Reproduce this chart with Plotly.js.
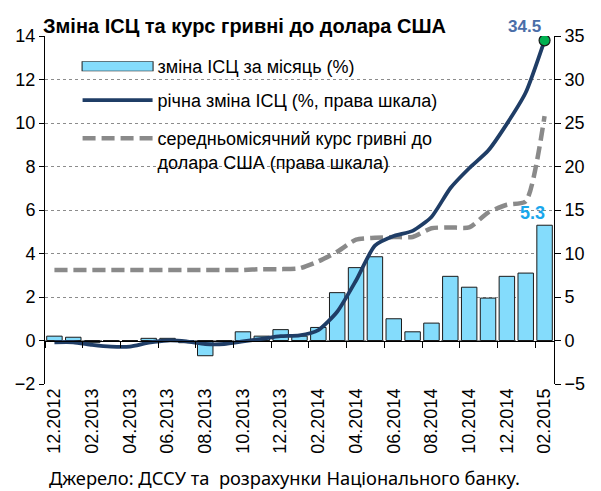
<!DOCTYPE html>
<html>
<head>
<meta charset="utf-8">
<script src="https://cdn.plot.ly/plotly-3.0.1.min.js"></script>
<style>html,body{margin:0;padding:0;background:#fff;}#chart{width:601px;height:491px;}</style>
</head>
<body>
<div id="chart"></div>
<script>
// Months: 12.2012 .. 02.2015
var months = ["12.2012","01.2013","02.2013","03.2013","04.2013","05.2013","06.2013","07.2013","08.2013","09.2013","10.2013","11.2013","12.2013","01.2014","02.2014","03.2014","04.2014","05.2014","06.2014","07.2014","08.2014","09.2014","10.2014","11.2014","12.2014","01.2015","02.2015"];
// Monthly CPI change, % (left axis)
var cpiMonthly = [0.2,0.15,-0.1,0.0,0.0,0.1,0.1,-0.1,-0.7,0.0,0.4,0.2,0.5,0.2,0.6,2.2,3.35,3.85,1.0,0.4,0.8,2.95,2.45,1.95,2.95,3.1,5.3];
// Annual CPI change, % (right axis)
var cpiAnnual = [-0.2,-0.2,-0.5,-0.7,-0.7,-0.25,0.0,-0.1,-0.4,-0.4,-0.1,0.2,0.5,0.6,1.2,3.3,6.9,10.9,12.0,12.6,14.2,17.5,19.8,21.8,24.9,28.5,34.5];
// Average monthly UAH/USD rate (right axis)
var uahUsd = [8.1,8.1,8.1,8.1,8.1,8.1,8.1,8.1,8.1,8.1,8.1,8.2,8.2,8.3,9.1,10.2,11.6,11.8,11.9,11.9,12.9,13.0,13.0,14.7,15.6,16.0,25.8];
// Labels
var tickLabels = ["12.2012","02.2013","04.2013","06.2013","08.2013","10.2013","12.2013","02.2014","04.2014","06.2014","08.2014","10.2014","12.2014","02.2015"];
var seriesNames = ["зміна ІСЦ за місяць (%)","річна зміна ІСЦ (%, права шкала)","середньомісячний курс гривні до<br>долара США (права шкала)"];
var titleText = "Зміна ІСЦ та курс гривні до долара США";
var sourceText = "Джерело: ДССУ та  розрахунки Національного банку.";

var xIdx = months.map(function(m,i){return i;});
var tickVals = tickLabels.map(function(t){return months.indexOf(t);});
var boundaryTicks = tickVals.map(function(v){return v-0.5;});
var last = months.length-1;
var FONT = "Liberation Sans, Arial, sans-serif";
var BARCOLOR = "#84DCFC";

var traces = [
  {type:"bar", x:xIdx, y:cpiMonthly, name:seriesNames[0], showlegend:false,
   marker:{color:BARCOLOR, line:{color:"#1a1a1a", width:1}}, width:0.82, yaxis:"y", xaxis:"x"},
  {type:"scatter", mode:"lines", x:xIdx, y:uahUsd, name:seriesNames[2], legend:"legend4",
   line:{color:"#8A8A8A", width:4.5, dash:"13px,6px", shape:"spline", smoothing:0.6}, yaxis:"y2", xaxis:"x"},
  {type:"scatter", mode:"lines", x:xIdx, y:cpiAnnual, name:seriesNames[1], legend:"legend3",
   line:{color:"#1F3D66", width:3.8, shape:"spline", smoothing:0.6}, yaxis:"y2", xaxis:"x"},
  {type:"scatter", mode:"markers", x:[last], y:[cpiAnnual[last]], showlegend:false,
   marker:{color:"#00B050", size:11, line:{color:"#1a1a1a", width:1.2}}, yaxis:"y2", xaxis:"x", hoverinfo:"skip"},
  {type:"scatter", mode:"markers", x:[0], y:[0], showlegend:false, marker:{opacity:0}, xaxis:"x2", yaxis:"y", hoverinfo:"skip"},
  // legend key for the bars: outline + fill
  {type:"scatter", mode:"lines", x:[null], y:[null], name:" ", legend:"legend",
   line:{color:"#1a1a1a", width:11}, hoverinfo:"skip"},
  {type:"scatter", mode:"lines", x:[null], y:[null], name:seriesNames[0], legend:"legend2",
   line:{color:BARCOLOR, width:9}, hoverinfo:"skip"}
];

function leg(yTop, extra){
  var o = {x:0.064, y:yTop, xanchor:"left", yanchor:"top", bgcolor:"rgba(0,0,0,0)",
           font:{family:FONT, size:18, color:"#000"}, itemwidth:70, valign:"top"};
  for (var k in (extra||{})) o[k]=extra[k];
  return o;
}

var layout = {
  width:601, height:491,
  margin:{l:45, r:47, t:36, b:107},
  paper_bgcolor:"#fff", plot_bgcolor:"rgba(0,0,0,0)",
  font:{family:FONT, size:18, color:"#000"},
  showlegend:true,
  legend: leg(0.9655, {x:0.064-1/509, itemwidth:72}),
  legend2: leg(0.9655),
  legend3: leg(0.8679),
  legend4: leg(0.7586),
  xaxis:{range:[-0.5, last+0.5], tickmode:"array", tickvals:tickVals, ticktext:tickLabels,
         tickangle:-90, showgrid:false, zeroline:false, showline:false, ticks:"",
         tickfont:{family:FONT, size:18}, fixedrange:true},
  xaxis2:{overlaying:"x", anchor:"free", position:0.125, range:[-0.5, last+0.5],
          tickmode:"array", tickvals:boundaryTicks, showticklabels:false, ticks:"outside",
          ticklen:6, tickcolor:"#000", showline:true, linecolor:"#000", linewidth:1,
          showgrid:false, zeroline:false},
  yaxis:{range:[-2,14], dtick:2, tick0:0, showgrid:true, gridcolor:"#8c8c8c", griddash:"dot", gridwidth:1,
         zeroline:false, showline:true, linecolor:"#000", linewidth:1, ticks:"outside", ticklen:5,
         tickcolor:"#000", tickfont:{family:FONT, size:18}, fixedrange:true},
  yaxis2:{range:[-5,35], dtick:5, tick0:0, overlaying:"y", side:"right", showgrid:false,
          zeroline:false, showline:true, linecolor:"#000", linewidth:1, ticks:"outside", ticklen:6,
          tickcolor:"#000", tickfont:{family:FONT, size:18}, fixedrange:true},
  title:{text:"<b>"+titleText+"</b>", x:43/601, xanchor:"left", xref:"container", y:0.947, yanchor:"middle",
         font:{family:FONT, size:20, color:"#000"}},
  annotations:[
    {x:last, y:cpiAnnual[last], xref:"x", yref:"y2", text:"<b>"+cpiAnnual[last]+"</b>", showarrow:false,
     xanchor:"right", yanchor:"bottom", xshift:-2, yshift:2, font:{family:FONT, size:17, color:"#4A6EA8"}},
    {x:last, y:cpiMonthly[last], xref:"x", yref:"y", text:"<b>"+cpiMonthly[last]+"</b>", showarrow:false,
     xanchor:"center", yanchor:"bottom", xshift:-12, yshift:0, font:{family:FONT, size:18, color:"#1AA7EC"}},
    {x:(47-45)/509, y:-(477-384)/348, xref:"paper", yref:"paper", xanchor:"left", yanchor:"middle", showarrow:false,
     text:sourceText, font:{family:"Noto Sans, sans-serif", size:18.3, color:"#000"}}
  ]
};

Plotly.newPlot("chart", traces, layout, {displayModeBar:false, staticPlot:true});
</script>
</body>
</html>
